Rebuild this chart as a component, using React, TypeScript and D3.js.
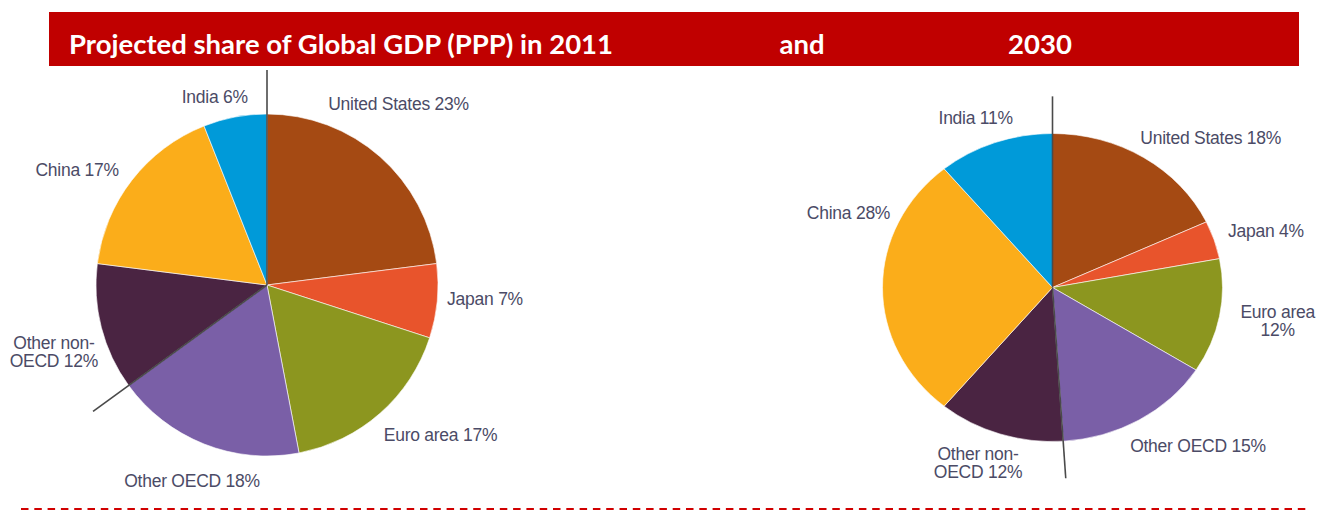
import React, { useEffect, useRef } from "react";
import * as d3 from "d3";

// shares of global GDP (PPP), %
const regions = ["United States", "Japan", "Euro area", "Other OECD", "Other non-OECD", "China", "India"];
const share2011 = [23, 7, 17, 18, 12, 17, 6];
const share2030 = [18, 4, 12, 15, 12, 28, 11];
const regionColors = ["#A54A13", "#E8542C", "#8C961F", "#7A5FA7", "#4A2442", "#FBAD1A", "#009AD9"];
const oecdCount = 4; // first four regions are OECD

const titleParts = ["Projected share of Global GDP (PPP) in 2011", "and", "2030"];

// labels that are broken over two lines
const wrap2011 = ["Other non-OECD"];
const wrap2030 = ["Other non-OECD", "Euro area"];

// hand nudges for the labels (px), like the original layout
const nudge2011 = [[-14, -16], [-1, -7], [28, -15], [6, -9], [0, 12], [-16, 20], [-11, 28]];
const nudge2030 = [[43, 15], [9, 4], [14, -3], [36, -9], [-8, -10], [11, -75], [-4, 14]];

const W = 1323;
const H = 512;

function labelLines(name: string, v: number, wrap: string[]) {
  if (wrap.indexOf(name) < 0) return [`${name} ${v}%`];
  const k = name.indexOf("-");
  if (k >= 0) return [name.slice(0, k + 1), `${name.slice(k + 1)} ${v}%`];
  return [name, `${v}%`];
}

export default function App() {
  const svgRef = useRef<SVGSVGElement>(null);

  useEffect(() => {
    const svg = d3.select(svgRef.current);
    svg.selectAll("*").remove();

    // header
    svg.append("rect")
      .attr("x", 49).attr("y", 12)
      .attr("width", 1250).attr("height", 54)
      .attr("fill", "#C00000");

    const title = svg.append("g")
      .attr("font-family", "Lato, 'Open Sans', sans-serif")
      .attr("font-weight", 700)
      .attr("font-size", 27.5)
      .attr("fill", "#fff");
    title.append("text").attr("x", 69).attr("y", 54).text(titleParts[0]);
    title.append("text").attr("x", 802).attr("y", 54).attr("text-anchor", "middle").text(titleParts[1]);
    title.append("text").attr("x", 1040).attr("y", 54).attr("text-anchor", "middle").text(titleParts[2]);

    const pie = d3.pie<number>().sort(null).value((d) => d);

    const drawPie = (
      values: number[], cx: number, cy: number, rx: number, ry: number,
      lineLen: number, labelR: number, wrap: string[], nudge: number[][]
    ) => {
      const k = ry / rx;
      const arcs = pie(values);
      const arc = d3.arc<d3.PieArcDatum<number>>().innerRadius(0).outerRadius(rx);

      const g = svg.append("g").attr("transform", `translate(${cx},${cy}) scale(1,${k})`);
      g.selectAll("path")
        .data(arcs)
        .enter()
        .append("path")
        .attr("d", arc)
        .attr("fill", (d, i) => regionColors[i])
        .attr("stroke", "#fff")
        .attr("stroke-width", 0.6)
        .attr("vector-effect", "non-scaling-stroke");

      // OECD / non-OECD dividers
      const divAngles = [0, arcs[oecdCount - 1].endAngle];
      g.selectAll("line")
        .data(divAngles)
        .enter()
        .append("line")
        .attr("x1", 0).attr("y1", 0)
        .attr("x2", (a) => lineLen * Math.sin(a))
        .attr("y2", (a) => -lineLen * Math.cos(a))
        .attr("stroke", "#4a4a4a")
        .attr("stroke-width", 1.6)
        .attr("vector-effect", "non-scaling-stroke");

      const labels = svg.append("g")
        .attr("font-family", "'Liberation Sans', Arial, sans-serif")
        .attr("font-size", 17.5)
        .attr("letter-spacing", -0.25)
        .attr("fill", "#4b4b66")
        .attr("text-anchor", "middle");

      arcs.forEach((d, i) => {
        const a = (d.startAngle + d.endAngle) / 2;
        const x = cx + labelR * Math.sin(a) + nudge[i][0];
        const y = cy - labelR * k * Math.cos(a) + nudge[i][1];
        const lines = labelLines(regions[i], values[i], wrap);
        const t = labels.append("text").attr("x", x).attr("y", y);
        const lh = 18.5;
        lines.forEach((ln, j) => {
          t.append("tspan")
            .attr("x", x)
            .attr("y", y + (j - (lines.length - 1) / 2) * lh)
            .attr("dy", "0.35em")
            .text(ln);
        });
      });
    };

    drawPie(share2011, 267, 285, 171, 171, 215, 220, wrap2011, nudge2011);
    drawPie(share2030, 1052.5, 287.5, 170, 154, 211, 215, wrap2030, nudge2030);

    // dashed footer rule
    svg.append("line")
      .attr("x1", 21).attr("x2", 1310)
      .attr("y1", 509).attr("y2", 509)
      .attr("stroke", "#D00000")
      .attr("stroke-width", 2)
      .attr("stroke-dasharray", "7.5,5.8");
  }, []);

  return (
    <svg
      ref={svgRef}
      width={W}
      height={H}
      style={{ position: "absolute", left: 0, top: 0, background: "#fff" }}
    />
  );
}
